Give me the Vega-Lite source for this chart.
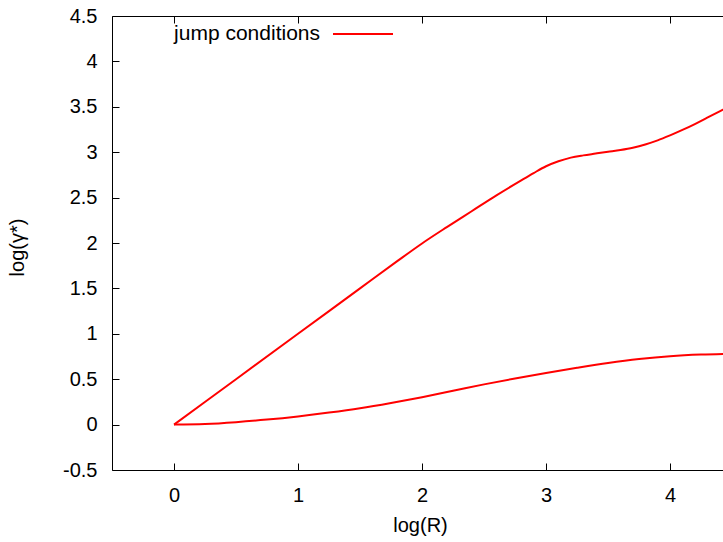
{
  "$schema": "https://vega.github.io/schema/vega-lite/v6.json",
  "width": 611,
  "height": 454,
  "autosize": {"type": "none"},
  "padding": {"left": 112, "top": 16, "right": 0, "bottom": 72},
  "background": "white",
  "data": {
    "values": [
      {"branch": "upper", "series": "jump conditions", "R": 0.0, "g": 0.0},
      {"branch": "upper", "series": "jump conditions", "R": 0.5, "g": 0.5},
      {"branch": "upper", "series": "jump conditions", "R": 1.0, "g": 1.0},
      {"branch": "upper", "series": "jump conditions", "R": 1.5, "g": 1.5},
      {"branch": "upper", "series": "jump conditions", "R": 1.8, "g": 1.8},
      {"branch": "upper", "series": "jump conditions", "R": 2.0, "g": 1.995},
      {"branch": "upper", "series": "jump conditions", "R": 2.2, "g": 2.175},
      {"branch": "upper", "series": "jump conditions", "R": 2.4, "g": 2.35},
      {"branch": "upper", "series": "jump conditions", "R": 2.6, "g": 2.525},
      {"branch": "upper", "series": "jump conditions", "R": 2.8, "g": 2.69},
      {"branch": "upper", "series": "jump conditions", "R": 2.9, "g": 2.77},
      {"branch": "upper", "series": "jump conditions", "R": 3.0, "g": 2.845},
      {"branch": "upper", "series": "jump conditions", "R": 3.1, "g": 2.9},
      {"branch": "upper", "series": "jump conditions", "R": 3.2, "g": 2.94},
      {"branch": "upper", "series": "jump conditions", "R": 3.3, "g": 2.965},
      {"branch": "upper", "series": "jump conditions", "R": 3.4, "g": 2.985},
      {"branch": "upper", "series": "jump conditions", "R": 3.5, "g": 3.005},
      {"branch": "upper", "series": "jump conditions", "R": 3.6, "g": 3.025},
      {"branch": "upper", "series": "jump conditions", "R": 3.7, "g": 3.05},
      {"branch": "upper", "series": "jump conditions", "R": 3.8, "g": 3.085},
      {"branch": "upper", "series": "jump conditions", "R": 3.9, "g": 3.13},
      {"branch": "upper", "series": "jump conditions", "R": 4.0, "g": 3.185},
      {"branch": "upper", "series": "jump conditions", "R": 4.1, "g": 3.245},
      {"branch": "upper", "series": "jump conditions", "R": 4.2, "g": 3.31},
      {"branch": "upper", "series": "jump conditions", "R": 4.3, "g": 3.38},
      {"branch": "upper", "series": "jump conditions", "R": 4.4, "g": 3.45},
      {"branch": "upper", "series": "jump conditions", "R": 4.5, "g": 3.52},
      {"branch": "lower", "series": "jump conditions", "R": 0.0, "g": 0.0},
      {"branch": "lower", "series": "jump conditions", "R": 0.25, "g": 0.007},
      {"branch": "lower", "series": "jump conditions", "R": 0.5, "g": 0.027},
      {"branch": "lower", "series": "jump conditions", "R": 0.75, "g": 0.055},
      {"branch": "lower", "series": "jump conditions", "R": 1.0, "g": 0.09},
      {"branch": "lower", "series": "jump conditions", "R": 1.25, "g": 0.132},
      {"branch": "lower", "series": "jump conditions", "R": 1.5, "g": 0.18},
      {"branch": "lower", "series": "jump conditions", "R": 1.75, "g": 0.238},
      {"branch": "lower", "series": "jump conditions", "R": 2.0, "g": 0.302},
      {"branch": "lower", "series": "jump conditions", "R": 2.25, "g": 0.372},
      {"branch": "lower", "series": "jump conditions", "R": 2.5, "g": 0.443},
      {"branch": "lower", "series": "jump conditions", "R": 2.75, "g": 0.508},
      {"branch": "lower", "series": "jump conditions", "R": 3.0, "g": 0.568},
      {"branch": "lower", "series": "jump conditions", "R": 3.25, "g": 0.625},
      {"branch": "lower", "series": "jump conditions", "R": 3.5, "g": 0.678},
      {"branch": "lower", "series": "jump conditions", "R": 3.75, "g": 0.722},
      {"branch": "lower", "series": "jump conditions", "R": 4.0, "g": 0.754},
      {"branch": "lower", "series": "jump conditions", "R": 4.25, "g": 0.772},
      {"branch": "lower", "series": "jump conditions", "R": 4.5, "g": 0.78}
    ]
  },
  "layer": [
    {
      "mark": {"type": "line", "clip": true, "strokeWidth": 2, "interpolate": "monotone"},
      "encoding": {
        "x": {
          "field": "R", "type": "quantitative",
          "scale": {"domain": [-0.5, 4.427], "nice": false, "zero": false},
          "axis": {
            "orient": "bottom", "values": [0, 1, 2, 3, 4], "title": "log(R)",
            "labelExpr": "'' + datum.value",
            "titleX": 308, "titleY": 55, "titleBaseline": "middle", "titleAnchor": null, "titleAlign": "center"
          }
        },
        "y": {
          "field": "g", "type": "quantitative",
          "scale": {"domain": [-0.5, 4.5], "nice": false, "zero": false},
          "axis": {
            "values": [-0.5, 0, 0.5, 1, 1.5, 2, 2.5, 3, 3.5, 4, 4.5], "title": "log(γ*)",
            "labelExpr": "'' + datum.value",
            "titleX": -95, "titleY": 231, "titleAngle": -90, "titleBaseline": "middle", "titleAlign": "center", "titleAnchor": null
          }
        },
        "color": {
          "field": "series", "type": "nominal",
          "scale": {"range": ["#ff0000"]},
          "legend": {
            "title": null, "orient": "none", "legendX": 220, "legendY": -13,
            "symbolType": "stroke", "symbolSize": 3600, "symbolStrokeWidth": 2,
            "labelAlign": "right", "labelOffset": -74, "labelFontSize": 21,
            "labelFont": "Liberation Sans", "labelColor": "#000", "padding": 0
          }
        },
        "detail": {"field": "branch"},
        "order": {"field": "R", "type": "quantitative"}
      }
    },
    {
      "mark": {"type": "line", "opacity": 0},
      "encoding": {
        "x": {
          "field": "R", "type": "quantitative",
          "axis": {"orient": "top", "values": [0, 1, 2, 3, 4], "labels": false, "title": null}
        },
        "y": {"field": "g", "type": "quantitative"},
        "detail": {"field": "branch"}
      }
    }
  ],
  "resolve": {"axis": {"x": "independent"}},
  "config": {
    "view": {"stroke": null},
    "font": "Liberation Sans",
    "axis": {
      "grid": false,
      "domainColor": "#000",
      "domainWidth": 1,
      "tickColor": "#000",
      "tickSize": -7,
      "tickWidth": 1,
      "labelFont": "Liberation Sans",
      "labelFontSize": 20,
      "labelColor": "#000",
      "labelPadding": 22,
      "titleFont": "Liberation Sans",
      "titleFontSize": 20,
      "titleFontWeight": "normal",
      "titleColor": "#000"
    },
    "axisY": {"labelPadding": 22}
  }
}
